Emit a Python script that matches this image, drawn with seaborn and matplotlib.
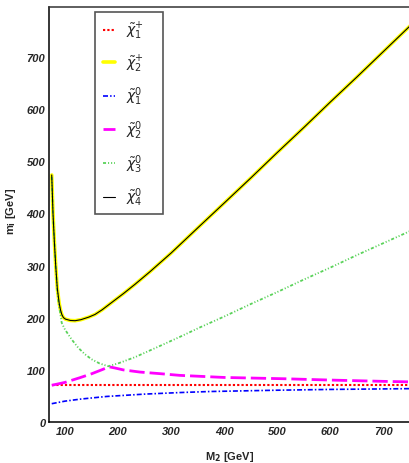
# Masas de charginos y neutralinos en función de M2
import matplotlib
matplotlib.use("Agg")
import matplotlib.pyplot as plt
import matplotlib.patches as patches
from matplotlib.ticker import MultipleLocator
import seaborn

# Valores (GeV)
m2_chi1p = [75, 200, 400, 600, 750]
mass_chi1p = [70, 70, 70, 70, 70]

m2_chi2p = [75, 77.4, 80, 82.5, 85.5, 89, 91.5, 94, 97, 101, 110, 119, 130, 145, 156.5,
            170, 188, 210, 232, 260, 300, 354, 400, 450, 500, 550, 600, 650, 700, 750]
mass_chi2p = [474, 400, 345, 300, 256, 228, 215, 206, 200, 197, 194.5, 194, 196, 201, 206,
              215, 229, 246, 264, 288, 324, 376, 420, 468, 517, 565, 614, 662, 711, 760]

m2_chi10 = [75, 100, 130, 178.5, 250, 316.6, 373, 500, 600, 750]
mass_chi10 = [34.6, 39.5, 43.5, 48.5, 53, 56, 58, 60.5, 62, 63.5]

m2_chi20 = [75, 100, 128, 150, 170, 183, 195, 210, 241, 279, 316.6, 400, 514, 600, 700, 750]
mass_chi20 = [70, 75.5, 84.5, 92, 100, 105.5, 103, 99.5, 95.4, 92.3, 89, 85, 82.5, 80, 77.5, 76.5]

m2_chi30 = [75, 77.4, 82.5, 85.5, 88, 93.8, 100, 112.6, 125, 137.6, 150, 165, 181.5,
            200, 232, 280, 316.6, 354, 400, 450, 500, 550, 600, 650, 700, 750]
mass_chi30 = [470, 398, 298, 252, 228, 190, 177, 158, 142, 129.5, 120, 112, 106.5,
              112, 124, 146, 163, 181, 202, 226, 249, 273, 296, 320, 343, 366]

# el chi4 coincide con el chargino pesado
m2_chi40 = list(m2_chi2p)
mass_chi40 = list(mass_chi2p)

etiquetas = [
    r"$\tilde{\chi}^{+}_{1}$",
    r"$\tilde{\chi}^{+}_{2}$",
    r"$\tilde{\chi}^{0}_{1}$",
    r"$\tilde{\chi}^{0}_{2}$",
    r"$\tilde{\chi}^{0}_{3}$",
    r"$\tilde{\chi}^{0}_{4}$",
]

seaborn.set_style("white")
plt.rcParams["font.family"] = ["Liberation Sans", "DejaVu Sans"]
plt.rcParams["mathtext.fontset"] = "dejavusans"
plt.rcParams["lines.scale_dashes"] = False

fig = plt.figure(figsize=(4.10, 4.64), dpi=100)
ax = fig.add_axes([49.5 / 410, 41.3 / 464, 1 - 49.5 / 410, 414.7 / 464])

# (x, y, color, grosor, estilo)
curvas = [
    (m2_chi1p, mass_chi1p, "#ff0000", 1.5, (0, (1.6, 1.5))),
    (m2_chi2p, mass_chi2p, "#ffff00", 2.6, "-"),
    (m2_chi10, mass_chi10, "#0000ff", 1.2, (0, (3.6, 1.5, 1.1, 1.5))),
    (m2_chi20, mass_chi20, "#ff00ff", 2.0, (0, (11, 3.6))),
    (m2_chi30, mass_chi30, "#5ad25a", 1.3, (0, (2.2, 1.4, 0.8, 1.4, 0.8, 1.4))),
    (m2_chi40, mass_chi40, "#000000", 0.8, "-"),
]

for (x, y, color, lw, ls), etiqueta in zip(curvas, etiquetas):
    seaborn.lineplot(x=x, y=y, ax=ax, color=color, linewidth=lw, linestyle=ls,
                     label=etiqueta, estimator=None, sort=False, legend=False)

ax.set_xlim(70.8, 750.3)
ax.set_ylim(0, 796.7)

ax.xaxis.set_major_locator(MultipleLocator(100))
ax.xaxis.set_minor_locator(MultipleLocator(20))
ax.yaxis.set_major_locator(MultipleLocator(100))

ax.tick_params(axis="x", which="major", direction="in", length=9, width=1,
               color="#333333", pad=3, labelsize=8, top=False)
ax.tick_params(axis="x", which="minor", direction="in", length=4.5, width=1,
               color="#333333", top=False)
ax.tick_params(axis="y", which="major", direction="in", length=8, width=1.2,
               color="#222222", pad=3, labelsize=8, right=False)

for lab in ax.get_xticklabels() + ax.get_yticklabels():
    lab.set_fontstyle("italic")
    lab.set_fontweight("bold")

for lado in ["left", "bottom"]:
    ax.spines[lado].set_color("black")
    ax.spines[lado].set_linewidth(1.1)
ax.spines["top"].set_color("#333333")
ax.spines["top"].set_linewidth(1.1)
ax.spines["right"].set_visible(False)

ax.set_xlabel(r"M$_\mathbf{2}$ [GeV]", fontsize=8, fontweight="bold")
ax.xaxis.set_label_coords(0.5, -0.066)
ax.set_ylabel(r"m$_\mathbf{i}$ [GeV]", fontsize=8, fontweight="bold")
ax.yaxis.set_label_coords(-0.086, 0.51)

# leyenda con marco propio
marco = patches.Rectangle((95 / 410, 1 - 215 / 464), 67.7 / 410, 202.3 / 464,
                          transform=fig.transFigure, fill=False,
                          edgecolor="#555555", linewidth=1.2, zorder=5)
fig.add_artist(marco)

ax.legend(ax.get_lines(), etiquetas, loc="upper left",
          bbox_to_anchor=(96 / 410, 1 - 14 / 464), bbox_transform=fig.transFigure,
          frameon=False, borderpad=0, handlelength=0.9, handletextpad=0.75,
          labelspacing=0.8, fontsize=10)

fig.savefig("out.png", dpi=100)
